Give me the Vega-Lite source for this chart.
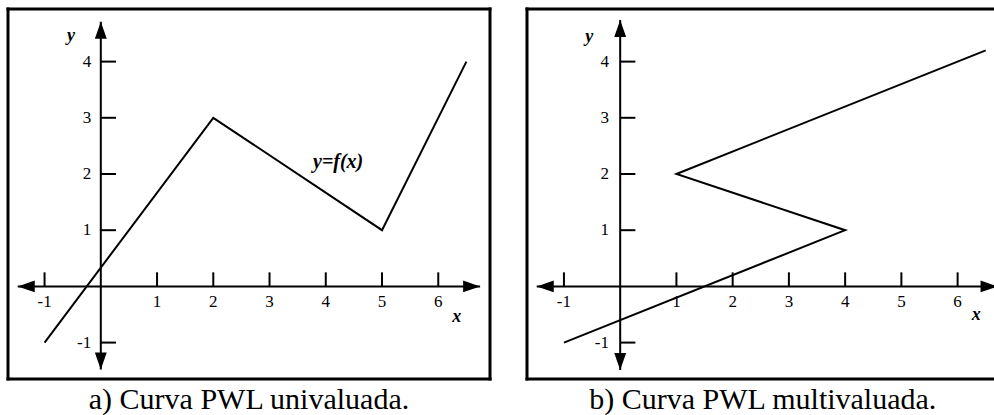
{
  "$schema": "https://vega.github.io/schema/vega-lite/v6.json",
  "background": "white",
  "padding": {"left": 5, "top": 6, "right": 0, "bottom": 0},
  "spacing": 31,
  "config": {
    "view": {"stroke": null},
    "title": {"font": "Liberation Serif", "fontSize": 30, "fontWeight": "normal", "color": "black", "orient": "bottom", "anchor": "middle", "baseline": "top", "offset": 4},
    "text": {"font": "Liberation Serif", "fontSize": 17, "color": "black"}
  },
  "datasets": {
    "curveA": [
      {"i": 0, "x": -1, "y": -1},
      {"i": 1, "x": 2, "y": 3},
      {"i": 2, "x": 5, "y": 1},
      {"i": 3, "x": 6.5, "y": 4}
    ],
    "curveB": [
      {"i": 0, "x": -1, "y": -1},
      {"i": 1, "x": 4, "y": 1},
      {"i": 2, "x": 1, "y": 2},
      {"i": 3, "x": 6.5, "y": 4.2}
    ],
    "xticks": [
      {"x": -1, "label": "-1"}, {"x": 1, "label": "1"}, {"x": 2, "label": "2"},
      {"x": 3, "label": "3"}, {"x": 4, "label": "4"}, {"x": 5, "label": "5"}, {"x": 6, "label": "6"}
    ],
    "yticks": [
      {"y": -1, "label": "-1"}, {"y": 1, "label": "1"}, {"y": 2, "label": "2"},
      {"y": 3, "label": "3"}, {"y": 4, "label": "4"}
    ],
    "frameA": [
      {"x": -1.65, "x2": -1.65, "y": -1.648, "y2": 4.936},
      {"x": 6.92, "x2": 6.92, "y": -1.648, "y2": 4.936},
      {"x": -1.65, "x2": 6.92, "y": 4.936, "y2": 4.936},
      {"x": -1.65, "x2": 6.92, "y": -1.648, "y2": -1.648}
    ],
    "axesA": [
      {"x": -1.477, "x2": 6.744, "y": 0, "y2": 0},
      {"x": 0, "x2": 0, "y": -1.48, "y2": 4.71}
    ],
    "arrowsA": [
      {"dir": "left", "x": -1.477, "y": 0},
      {"dir": "right", "x": 6.744, "y": 0},
      {"dir": "up", "x": 0, "y": 4.71},
      {"dir": "down", "x": 0, "y": -1.48}
    ],
    "namesA": [
      {"x": -0.53, "y": 4.46, "label": "y"},
      {"x": 6.33, "y": -0.54, "label": "x"}
    ],
    "curveLabelA": [
      {"x": 4.22, "y": 2.22, "label": "y=f(x)"}
    ],
    "frameB": [
      {"x": -1.657, "x2": -1.657, "y": -1.648, "y2": 4.936},
      {"x": -1.657, "x2": 6.70, "y": 4.936, "y2": 4.936},
      {"x": -1.657, "x2": 6.70, "y": -1.648, "y2": -1.648}
    ],
    "axesB": [
      {"x": -1.484, "x2": 6.71, "y": 0, "y2": 0},
      {"x": 0, "x2": 0, "y": -1.49, "y2": 4.74}
    ],
    "arrowsB": [
      {"dir": "left", "x": -1.484, "y": 0},
      {"dir": "right", "x": 6.71, "y": 0},
      {"dir": "up", "x": 0, "y": 4.74},
      {"dir": "down", "x": 0, "y": -1.49}
    ],
    "namesB": [
      {"x": -0.55, "y": 4.44, "label": "y"},
      {"x": 6.33, "y": -0.51, "label": "x"}
    ]
  },
  "hconcat": [
    {
      "title": "a) Curva PWL univaluada.",
      "width": 482,
      "height": 370,
      "layer": [
        {
          "data": {"name": "frameA"},
          "mark": {"type": "rule", "color": "black", "strokeWidth": 3, "strokeCap": "square"},
          "encoding": {
            "x": {"field": "x", "type": "quantitative", "axis": null, "scale": {"domain": [-1.65, 6.92], "nice": false, "zero": false}},
            "y": {"field": "y", "type": "quantitative", "axis": null, "scale": {"domain": [-1.648, 4.936], "nice": false, "zero": false}},
            "x2": {"field": "x2"}, "y2": {"field": "y2"}
          }
        },
        {
          "data": {"name": "axesA"},
          "mark": {"type": "rule", "color": "black", "strokeWidth": 2},
          "encoding": {
            "x": {"field": "x", "type": "quantitative", "axis": null, "scale": {"domain": [-1.65, 6.92], "nice": false, "zero": false}},
            "y": {"field": "y", "type": "quantitative", "axis": null, "scale": {"domain": [-1.648, 4.936], "nice": false, "zero": false}},
            "x2": {"field": "x2"}, "y2": {"field": "y2"}
          }
        },
        {
          "data": {"name": "arrowsA"},
          "mark": {"type": "point", "filled": true, "color": "black", "opacity": 1, "size": 289, "strokeWidth": 0},
          "encoding": {
            "x": {"field": "x", "type": "quantitative", "axis": null, "scale": {"domain": [-1.65, 6.92], "nice": false, "zero": false}},
            "y": {"field": "y", "type": "quantitative", "axis": null, "scale": {"domain": [-1.648, 4.936], "nice": false, "zero": false}},
            "shape": {"field": "dir", "type": "nominal", "legend": null,
              "scale": {"domain": ["left", "right", "up", "down"],
                "range": ["M0,0L2,-0.7L2,0.7Z", "M0,0L-2,-0.7L-2,0.7Z", "M0,0L-0.7,2L0.7,2Z", "M0,0L-0.7,-2L0.7,-2Z"]}}
          }
        },
        {
          "data": {"name": "xticks"},
          "mark": {"type": "rule", "color": "black", "strokeWidth": 2},
          "encoding": {
            "x": {"field": "x", "type": "quantitative", "axis": null, "scale": {"domain": [-1.65, 6.92], "nice": false, "zero": false}},
            "y": {"datum": 0, "type": "quantitative", "axis": null, "scale": {"domain": [-1.648, 4.936], "nice": false, "zero": false}},
            "y2": {"datum": 0.25}
          }
        },
        {
          "data": {"name": "xticks"},
          "mark": {"type": "text", "baseline": "middle", "align": "center", "font": "Liberation Serif", "fontSize": 17},
          "encoding": {
            "x": {"field": "x", "type": "quantitative", "axis": null, "scale": {"domain": [-1.65, 6.92], "nice": false, "zero": false}},
            "y": {"datum": -0.28, "type": "quantitative", "axis": null, "scale": {"domain": [-1.648, 4.936], "nice": false, "zero": false}},
            "text": {"field": "label"}
          }
        },
        {
          "data": {"name": "yticks"},
          "mark": {"type": "rule", "color": "black", "strokeWidth": 2},
          "encoding": {
            "x": {"datum": 0, "type": "quantitative", "axis": null, "scale": {"domain": [-1.65, 6.92], "nice": false, "zero": false}},
            "x2": {"datum": 0.27},
            "y": {"field": "y", "type": "quantitative", "axis": null, "scale": {"domain": [-1.648, 4.936], "nice": false, "zero": false}}
          }
        },
        {
          "data": {"name": "yticks"},
          "mark": {"type": "text", "baseline": "middle", "align": "right", "font": "Liberation Serif", "fontSize": 17},
          "encoding": {
            "x": {"datum": -0.17, "type": "quantitative", "axis": null, "scale": {"domain": [-1.65, 6.92], "nice": false, "zero": false}},
            "y": {"field": "y", "type": "quantitative", "axis": null, "scale": {"domain": [-1.648, 4.936], "nice": false, "zero": false}},
            "text": {"field": "label"}
          }
        },
        {
          "data": {"name": "curveA"},
          "mark": {"type": "line", "color": "black", "strokeWidth": 2},
          "encoding": {
            "x": {"field": "x", "type": "quantitative", "axis": null, "scale": {"domain": [-1.65, 6.92], "nice": false, "zero": false}},
            "y": {"field": "y", "type": "quantitative", "axis": null, "scale": {"domain": [-1.648, 4.936], "nice": false, "zero": false}},
            "order": {"field": "i"}
          }
        },
        {
          "data": {"name": "namesA"},
          "mark": {"type": "text", "baseline": "middle", "align": "center", "font": "Liberation Serif", "fontStyle": "italic", "fontWeight": "bold", "fontSize": 18},
          "encoding": {
            "x": {"field": "x", "type": "quantitative", "axis": null, "scale": {"domain": [-1.65, 6.92], "nice": false, "zero": false}},
            "y": {"field": "y", "type": "quantitative", "axis": null, "scale": {"domain": [-1.648, 4.936], "nice": false, "zero": false}},
            "text": {"field": "label"}
          }
        },
        {
          "data": {"name": "curveLabelA"},
          "mark": {"type": "text", "baseline": "middle", "align": "center", "font": "Liberation Serif", "fontStyle": "italic", "fontWeight": "bold", "fontSize": 20},
          "encoding": {
            "x": {"field": "x", "type": "quantitative", "axis": null, "scale": {"domain": [-1.65, 6.92], "nice": false, "zero": false}},
            "y": {"field": "y", "type": "quantitative", "axis": null, "scale": {"domain": [-1.648, 4.936], "nice": false, "zero": false}},
            "text": {"field": "label"}
          }
        }
      ]
    },
    {
      "title": "b) Curva PWL multivaluada.",
      "width": 471.5,
      "height": 370,
      "layer": [
        {
          "data": {"name": "frameB"},
          "mark": {"type": "rule", "color": "black", "strokeWidth": 3, "strokeCap": "square"},
          "encoding": {
            "x": {"field": "x", "type": "quantitative", "axis": null, "scale": {"domain": [-1.657, 6.727], "nice": false, "zero": false}},
            "y": {"field": "y", "type": "quantitative", "axis": null, "scale": {"domain": [-1.648, 4.936], "nice": false, "zero": false}},
            "x2": {"field": "x2"}, "y2": {"field": "y2"}
          }
        },
        {
          "data": {"name": "axesB"},
          "mark": {"type": "rule", "color": "black", "strokeWidth": 2},
          "encoding": {
            "x": {"field": "x", "type": "quantitative", "axis": null, "scale": {"domain": [-1.657, 6.727], "nice": false, "zero": false}},
            "y": {"field": "y", "type": "quantitative", "axis": null, "scale": {"domain": [-1.648, 4.936], "nice": false, "zero": false}},
            "x2": {"field": "x2"}, "y2": {"field": "y2"}
          }
        },
        {
          "data": {"name": "arrowsB"},
          "mark": {"type": "point", "filled": true, "color": "black", "opacity": 1, "size": 289, "strokeWidth": 0},
          "encoding": {
            "x": {"field": "x", "type": "quantitative", "axis": null, "scale": {"domain": [-1.657, 6.727], "nice": false, "zero": false}},
            "y": {"field": "y", "type": "quantitative", "axis": null, "scale": {"domain": [-1.648, 4.936], "nice": false, "zero": false}},
            "shape": {"field": "dir", "type": "nominal", "legend": null,
              "scale": {"domain": ["left", "right", "up", "down"],
                "range": ["M0,0L2,-0.7L2,0.7Z", "M0,0L-2,-0.7L-2,0.7Z", "M0,0L-0.7,2L0.7,2Z", "M0,0L-0.7,-2L0.7,-2Z"]}}
          }
        },
        {
          "data": {"name": "xticks"},
          "mark": {"type": "rule", "color": "black", "strokeWidth": 2},
          "encoding": {
            "x": {"field": "x", "type": "quantitative", "axis": null, "scale": {"domain": [-1.657, 6.727], "nice": false, "zero": false}},
            "y": {"datum": 0, "type": "quantitative", "axis": null, "scale": {"domain": [-1.648, 4.936], "nice": false, "zero": false}},
            "y2": {"datum": 0.25}
          }
        },
        {
          "data": {"name": "xticks"},
          "mark": {"type": "text", "baseline": "middle", "align": "center", "font": "Liberation Serif", "fontSize": 17},
          "encoding": {
            "x": {"field": "x", "type": "quantitative", "axis": null, "scale": {"domain": [-1.657, 6.727], "nice": false, "zero": false}},
            "y": {"datum": -0.28, "type": "quantitative", "axis": null, "scale": {"domain": [-1.648, 4.936], "nice": false, "zero": false}},
            "text": {"field": "label"}
          }
        },
        {
          "data": {"name": "yticks"},
          "mark": {"type": "rule", "color": "black", "strokeWidth": 2},
          "encoding": {
            "x": {"datum": 0, "type": "quantitative", "axis": null, "scale": {"domain": [-1.657, 6.727], "nice": false, "zero": false}},
            "x2": {"datum": 0.27},
            "y": {"field": "y", "type": "quantitative", "axis": null, "scale": {"domain": [-1.648, 4.936], "nice": false, "zero": false}}
          }
        },
        {
          "data": {"name": "yticks"},
          "mark": {"type": "text", "baseline": "middle", "align": "right", "font": "Liberation Serif", "fontSize": 17},
          "encoding": {
            "x": {"datum": -0.2, "type": "quantitative", "axis": null, "scale": {"domain": [-1.657, 6.727], "nice": false, "zero": false}},
            "y": {"field": "y", "type": "quantitative", "axis": null, "scale": {"domain": [-1.648, 4.936], "nice": false, "zero": false}},
            "text": {"field": "label"}
          }
        },
        {
          "data": {"name": "curveB"},
          "mark": {"type": "line", "color": "black", "strokeWidth": 2},
          "encoding": {
            "x": {"field": "x", "type": "quantitative", "axis": null, "scale": {"domain": [-1.657, 6.727], "nice": false, "zero": false}},
            "y": {"field": "y", "type": "quantitative", "axis": null, "scale": {"domain": [-1.648, 4.936], "nice": false, "zero": false}},
            "order": {"field": "i"}
          }
        },
        {
          "data": {"name": "namesB"},
          "mark": {"type": "text", "baseline": "middle", "align": "center", "font": "Liberation Serif", "fontStyle": "italic", "fontWeight": "bold", "fontSize": 18},
          "encoding": {
            "x": {"field": "x", "type": "quantitative", "axis": null, "scale": {"domain": [-1.657, 6.727], "nice": false, "zero": false}},
            "y": {"field": "y", "type": "quantitative", "axis": null, "scale": {"domain": [-1.648, 4.936], "nice": false, "zero": false}},
            "text": {"field": "label"}
          }
        }
      ]
    }
  ]
}
